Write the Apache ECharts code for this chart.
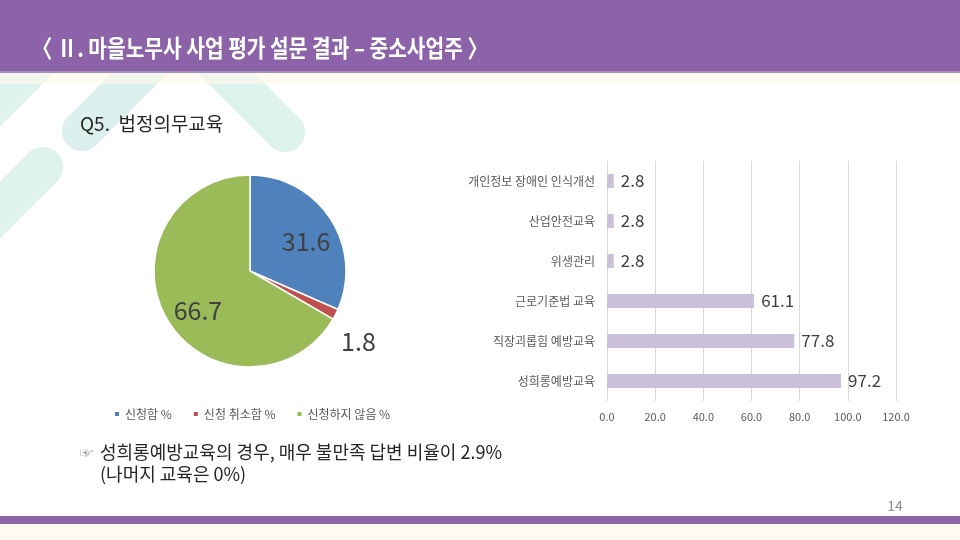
<!DOCTYPE html>
<html><head><meta charset="utf-8">
<script src="https://cdn.jsdelivr.net/npm/echarts@6/dist/echarts.min.js"></script>
<style>html,body{margin:0;padding:0;background:#fff}#c{width:960px;height:540px}</style>
</head><body><div id="c"></div>
<script>
const pieNames = ['신청함 %', '신청 취소함 %', '신청하지 않음 %'];
const pieValues = [31.6, 1.8, 66.7];
const pieColors = ['#4F81BD', '#C0504D', '#9BBB59'];
const barCategories = ['개인정보 장애인 인식개선', '산업안전교육', '위생관리', '근로기준법 교육', '직장괴롭힘 예방교육', '성희롱예방교육'];
const barValues = [2.8, 2.8, 2.8, 61.1, 77.8, 97.2];
const xTicks = [0, 20, 40, 60, 80, 100, 120];

const FONT = '"Noto Sans CJK KR","Noto Sans",sans-serif';
const teal = '#DEF2EE';
const purple = '#8C63A9';

// decorative diagonal bands: cap centre + far end, half width 20
function band(id, cx, cy, ex, ey, col) {
  const dx = ex - cx, dy = ey - cy, L = Math.hypot(dx, dy);
  const px = -dy / L * 20, py = dx / L * 20;
  return [
    { id: id + 'p', type: 'polygon', z: 0, silent: true, shape: { points: [[cx + px, cy + py], [ex + px, ey + py], [ex - px, ey - py], [cx - px, cy - py]] }, style: { fill: col } },
    { id: id + 'c', type: 'circle', z: 0, silent: true, shape: { cx: cx, cy: cy, r: 20 }, style: { fill: col } }
  ];
}

const chart = echarts.init(document.getElementById('c'));
const pieData = pieNames.map((n, i) => ({ name: n, value: pieValues[i], itemStyle: { color: pieColors[i] } }));
const labelData = pieNames.map((n, i) => ({
  name: n, value: pieValues[i],
  label: i === 1 ? { position: 'outside' } : { position: 'inside' },
  labelLine: { show: false, length: 14, length2: 0 }
}));
const labelShift = [{ dx: 0, dy: 7 }, { dx: -12, dy: 21 }, { dx: 6, dy: 6 }];

chart.setOption({
  backgroundColor: '#ffffff',
  textStyle: { fontFamily: FONT },
  animation: false,
  graphic: [
    ...band('bA', -60, 158, 110, -12, teal),
    ...band('bB', 82, 131, 210, 3, '#DCF1ED'),
    ...band('bC', 285, 132, 160, 7, teal),
    ...band('bD', 43, 167, -100, 310, teal),
    { type: 'rect', z: 1, shape: { x: 0, y: 72, width: 960, height: 12 }, style: { fill: 'rgba(255,249,235,0.6)' } },
    { type: 'rect', z: 2, shape: { x: 0, y: 0, width: 960, height: 72 }, style: { fill: purple } },
    { type: 'rect', z: 2, shape: { x: 0, y: 71, width: 960, height: 2 }, style: { fill: '#A58DBC' } },
    { type: 'text', z: 3, x: 32, y: 48, scaleX: 0.845, style: { text: '〈 Ⅱ. 마을노무사 사업 평가 설문 결과 – 중소사업주 〉', fill: '#ffffff', font: 'bold 24px ' + FONT, verticalAlign: 'middle' } },
    { type: 'text', z: 3, x: 80, y: 124, style: { text: 'Q5.  법정의무교육', fill: '#262626', font: '19px ' + FONT, verticalAlign: 'middle' } },
    { type: 'text', z: 3, x: 80, y: 452, style: { text: '☞', fill: '#8a8a8a', font: '13px ' + FONT, verticalAlign: 'middle' } },
    { type: 'text', z: 3, x: 100, y: 452, style: { text: '성희롱예방교육의 경우, 매우 불만족 답변 비율이 2.9%', fill: '#262626', font: '18px ' + FONT, verticalAlign: 'middle' } },
    { type: 'text', z: 3, x: 100, y: 474, style: { text: '(나머지 교육은 0%)', fill: '#262626', font: '18px ' + FONT, verticalAlign: 'middle' } },
    { type: 'text', z: 3, x: 895, y: 506, style: { text: '14', fill: '#8c8c8c', font: '14px ' + FONT, align: 'center', verticalAlign: 'middle' } },
    { type: 'rect', z: 2, shape: { x: 0, y: 516, width: 960, height: 8 }, style: { fill: purple } },
    { type: 'rect', z: 2, shape: { x: 0, y: 524, width: 960, height: 16 }, style: { fill: '#FFFAF0' } }
  ],
  legend: {
    data: pieNames, left: 108, top: 403, icon: 'rect', itemWidth: 6, itemHeight: 6, itemGap: 20,
    textStyle: { fontSize: 12, color: '#595959', fontFamily: FONT }
  },
  grid: { left: 607, right: 64, top: 161, bottom: 139 },
  xAxis: {
    type: 'value', min: 0, max: 120, interval: 20,
    axisLine: { show: false }, axisTick: { show: false },
    splitLine: { lineStyle: { color: '#D9D9D9', width: 1 } },
    axisLabel: { fontSize: 11, color: '#595959', margin: 10, formatter: v => xTicks.includes(v) ? v.toFixed(1) : '' }
  },
  yAxis: {
    type: 'category', data: barCategories, inverse: true,
    axisLine: { show: false }, axisTick: { show: false },
    axisLabel: { fontSize: 12, color: '#595959', margin: 12 }
  },
  series: [
    {
      type: 'bar', data: barValues, barWidth: 14,
      itemStyle: { color: '#CCC1DA' },
      label: { show: true, position: 'right', distance: 7, fontSize: 17, color: '#404040', formatter: p => p.value.toFixed(1) }
    },
    {
      type: 'pie', center: [250, 271], radius: 96, startAngle: 90, clockwise: true,
      data: pieData, label: { show: false }, labelLine: { show: false },
      itemStyle: { borderColor: '#ffffff', borderWidth: 1.5 }, emphasis: { disabled: true }, silent: true
    },
    {
      type: 'pie', center: [250, 271], radius: [32, 96], startAngle: 90, clockwise: true,
      data: labelData, itemStyle: { color: 'rgba(0,0,0,0)' },
      label: { show: true, fontSize: 25, color: '#404040', formatter: p => p.value.toFixed(1) },
      labelLine: { show: false }, emphasis: { disabled: true }, silent: true,
      labelLayout: p => labelShift[p.dataIndex]
    }
  ]
});
</script></body></html>
